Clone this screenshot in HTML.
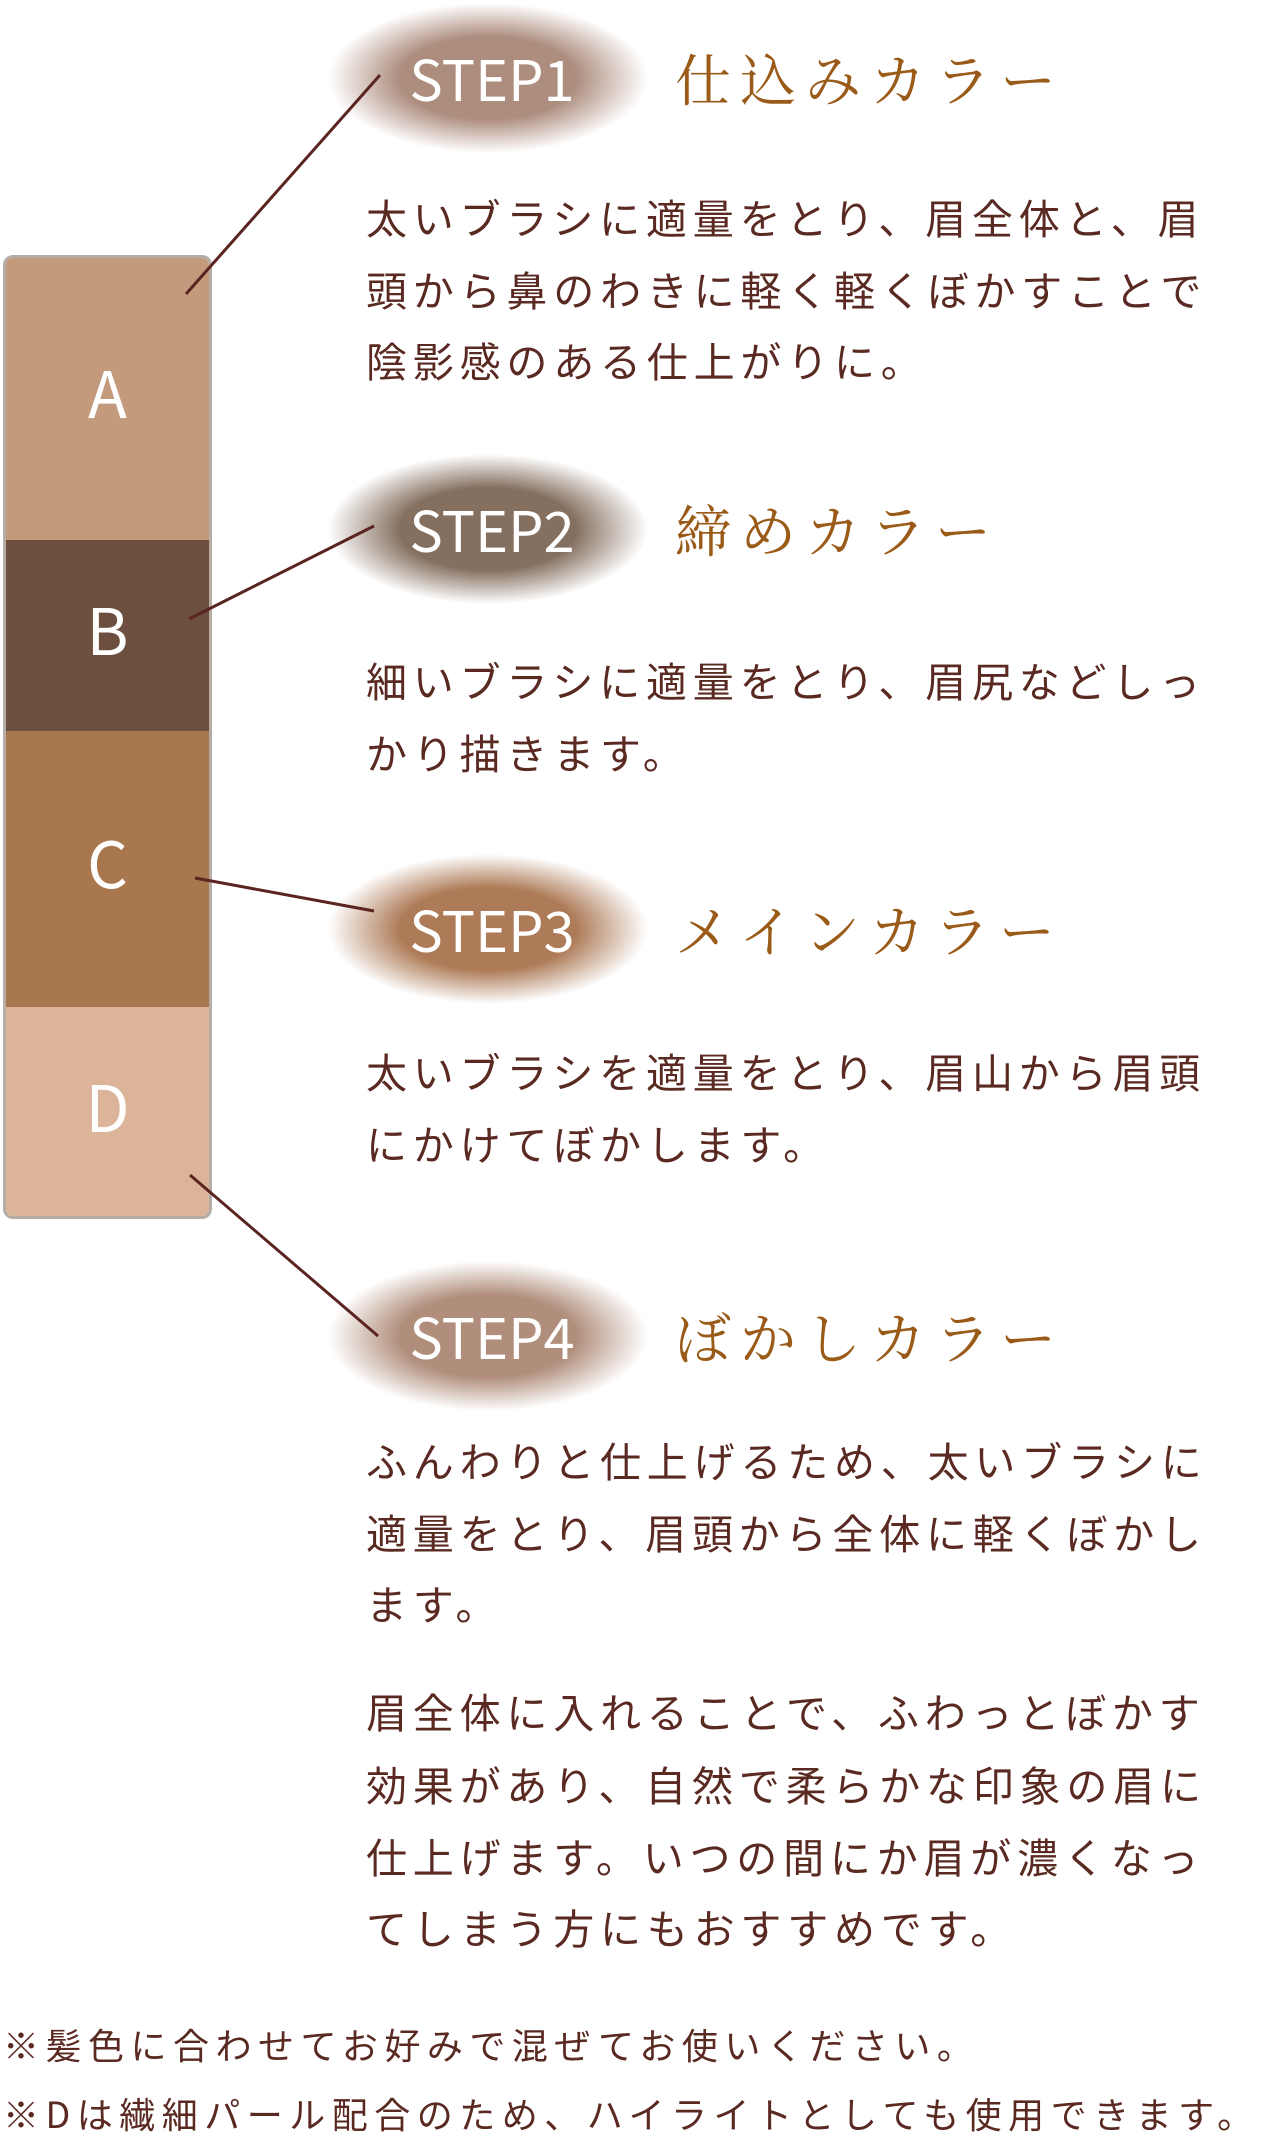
<!DOCTYPE html>
<html><head><meta charset="utf-8"><style>
body{margin:0;width:1280px;height:2142px;background:#fff;position:relative;overflow:hidden;font-family:"Liberation Sans","Noto Sans CJK JP",sans-serif;}
.pal{position:absolute;left:3px;top:255px;width:203px;height:958px;border:3px solid #b5aca6;border-radius:10px;overflow:hidden;}
.seg{position:absolute;left:0;width:100%;color:#fff;font-size:64px;display:flex;align-items:center;justify-content:center;font-family:"Noto Sans CJK JP",sans-serif;box-sizing:border-box;padding-bottom:16px;}
.blob{position:absolute;width:320px;height:150px;border-radius:50%;}
.st{position:absolute;width:240px;text-align:center;color:#fff;font-size:56px;font-family:"Noto Sans CJK JP",sans-serif;line-height:1;}
.tt{position:absolute;left:675px;color:#9a5a18;font-size:56px;letter-spacing:9px;font-family:"Noto Serif CJK SC","Noto Serif CJK JP",serif;line-height:1;white-space:nowrap;}
.tx{position:absolute;left:366px;color:#5a2a22;font-size:41px;letter-spacing:5.8px;line-height:1;white-space:nowrap;font-family:"Noto Sans CJK JP",sans-serif;}
.nt{position:absolute;left:3px;color:#5a2a22;font-size:36px;letter-spacing:6.5px;line-height:1;white-space:nowrap;font-family:"Noto Sans CJK JP",sans-serif;}
</style></head><body>
<div class="pal">
<div class="seg" style="top:0;height:282px;background:#c49a7c">A</div>
<div class="seg" style="top:282px;height:191px;background:#6c4f3e">B</div>
<div class="seg" style="top:473px;height:276px;background:#a9774e">C</div>
<div class="seg" style="top:749px;height:212px;background:#dbb499">D</div>
</div>
<div class="blob" style="left:328px;top:3px;background:radial-gradient(ellipse closest-side,#ad8d7e 55%,rgba(173,141,126,0) 100%)"></div>
<div class="blob" style="left:328px;top:454px;background:radial-gradient(ellipse closest-side,#857060 55%,rgba(133,112,96,0) 100%)"></div>
<div class="blob" style="left:328px;top:854px;background:radial-gradient(ellipse closest-side,#ad7b57 55%,rgba(173,123,87,0) 100%)"></div>
<div class="blob" style="left:328px;top:1261px;background:radial-gradient(ellipse closest-side,#b08e7b 55%,rgba(176,142,123,0) 100%)"></div>
<svg style="position:absolute;left:0;top:0" width="1280" height="2142">
<g stroke="#5a2420" stroke-width="3">
<line x1="380" y1="75" x2="186" y2="294"/>
<line x1="374" y1="526" x2="189" y2="619"/>
<line x1="374" y1="911" x2="195" y2="878"/>
<line x1="190" y1="1175" x2="378" y2="1336"/>
</g></svg>
<div class="st" style="left:372px;top:50px">STEP1</div>
<div class="st" style="left:372px;top:501px">STEP2</div>
<div class="st" style="left:372px;top:901px">STEP3</div>
<div class="st" style="left:372px;top:1308px">STEP4</div>
<div class="tt" style="top:50px">仕込みカラー</div>
<div class="tt" style="top:501px">締めカラー</div>
<div class="tt" style="top:901px">メインカラー</div>
<div class="tt" style="top:1308px">ぼかしカラー</div>
<div class="tx" style="top:196px">太いブラシに適量をとり、眉全体と、眉</div>
<div class="tx" style="top:268px">頭から鼻のわきに軽く軽くぼかすことで</div>
<div class="tx" style="top:339px">陰影感のある仕上がりに。</div>
<div class="tx" style="top:659px">細いブラシに適量をとり、眉尻などしっ</div>
<div class="tx" style="top:731px">かり描きます。</div>
<div class="tx" style="top:1050px">太いブラシを適量をとり、眉山から眉頭</div>
<div class="tx" style="top:1122px">にかけてぼかします。</div>
<div class="tx" style="top:1439px">ふんわりと仕上げるため、太いブラシに</div>
<div class="tx" style="top:1511px">適量をとり、眉頭から全体に軽くぼかし</div>
<div class="tx" style="top:1582px">ます。</div>
<div class="tx" style="top:1690px">眉全体に入れることで、ふわっとぼかす</div>
<div class="tx" style="top:1763px">効果があり、自然で柔らかな印象の眉に</div>
<div class="tx" style="top:1835px">仕上げます。いつの間にか眉が濃くなっ</div>
<div class="tx" style="top:1906px">てしまう方にもおすすめです。</div>
<div class="nt" style="top:2026px">※髪色に合わせてお好みで混ぜてお使いください。</div>
<div class="nt" style="top:2095px">※Dは繊細パール配合のため、ハイライトとしても使用できます。</div>
</body></html>
